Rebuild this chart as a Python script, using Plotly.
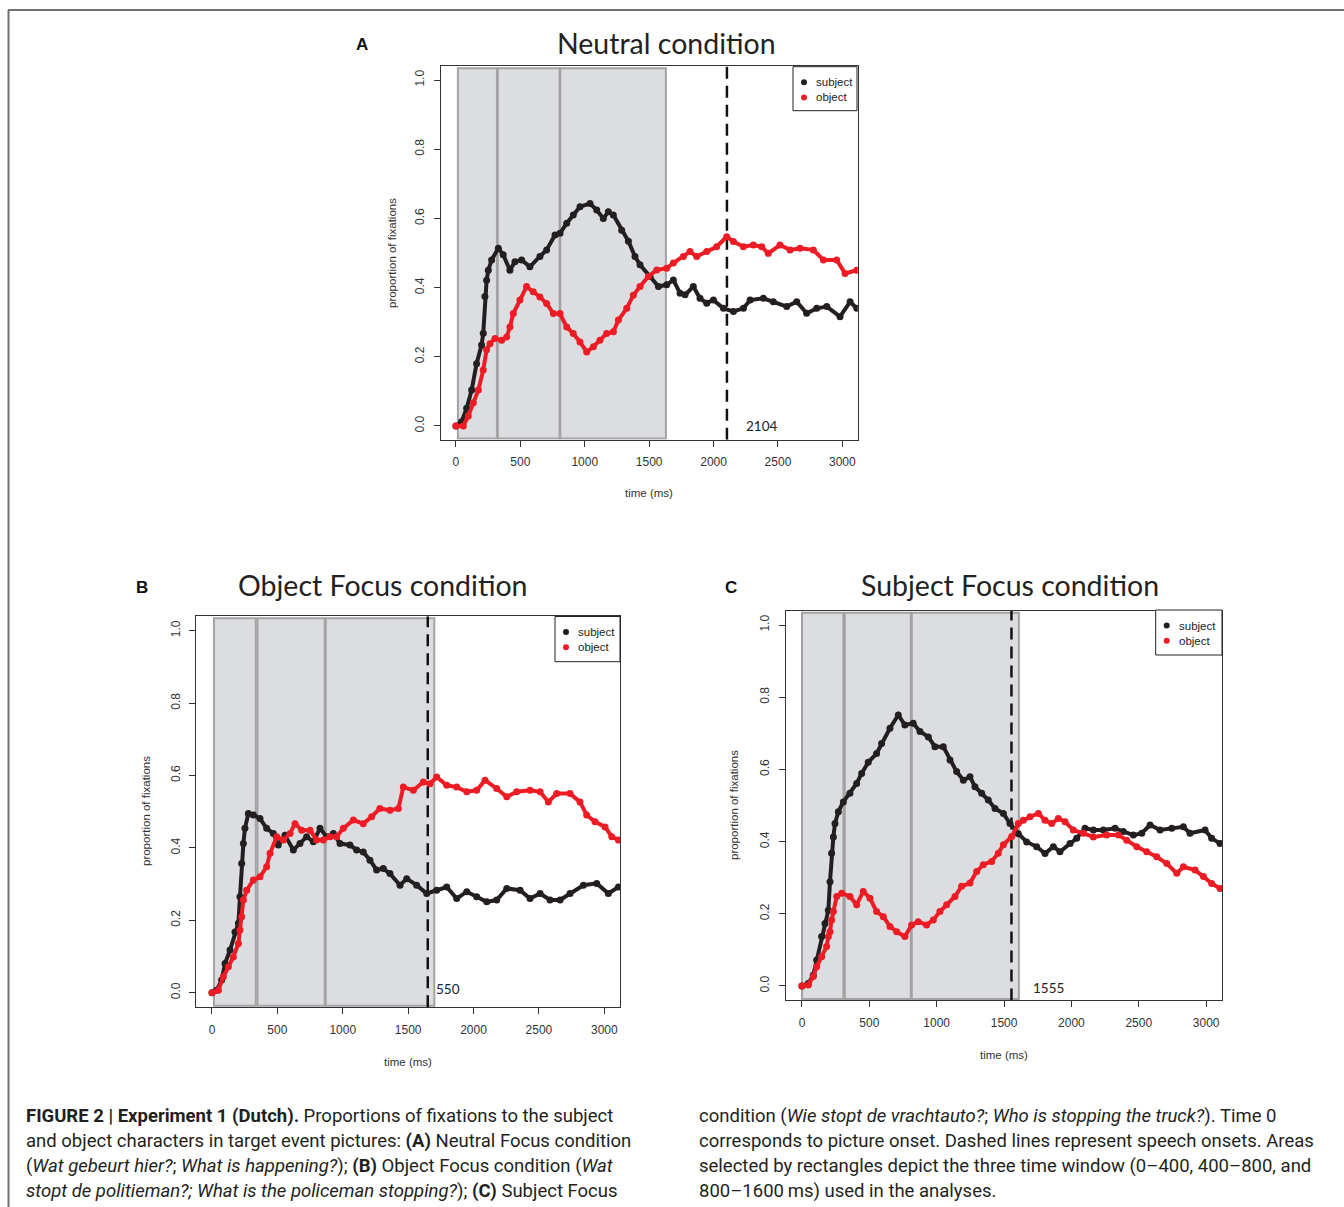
import plotly.graph_objects as go

W, H = 1344, 1207

def fx(px):
    return px / W

def fy(py):
    return 1 - py / H

# ---------------- DATA ----------------
# Panel A: Neutral condition
A_subj_t = [0, 44, 83, 122, 160, 199, 212, 225, 238, 251, 277, 329, 367, 419, 458, 510, 574, 652, 704, 769, 808, 860, 911, 963, 1041, 1093, 1144, 1183, 1222, 1287, 1339, 1390, 1429, 1507, 1572, 1636, 1688, 1740, 1779, 1843, 1895, 1947, 1999, 2077, 2154, 2232, 2284, 2387, 2464, 2568, 2646, 2723, 2801, 2879, 2982, 3060, 3112]
A_subj_v = [0.0, 0.012, 0.051, 0.104, 0.18, 0.234, 0.268, 0.374, 0.421, 0.45, 0.48, 0.514, 0.495, 0.45, 0.475, 0.48, 0.46, 0.49, 0.509, 0.552, 0.557, 0.586, 0.61, 0.634, 0.643, 0.624, 0.6, 0.619, 0.61, 0.566, 0.534, 0.49, 0.466, 0.432, 0.403, 0.408, 0.422, 0.384, 0.379, 0.403, 0.369, 0.355, 0.364, 0.34, 0.331, 0.34, 0.364, 0.369, 0.359, 0.345, 0.359, 0.326, 0.34, 0.345, 0.316, 0.359, 0.34]
A_obj_t = [0, 57, 96, 135, 174, 212, 238, 264, 303, 355, 394, 419, 445, 497, 548, 600, 652, 704, 756, 808, 860, 911, 963, 1015, 1067, 1118, 1170, 1222, 1261, 1326, 1377, 1429, 1494, 1559, 1636, 1688, 1766, 1817, 1869, 1947, 2024, 2102, 2154, 2232, 2309, 2374, 2425, 2516, 2594, 2671, 2775, 2853, 2956, 3021, 3112]
A_obj_v = [0.0, 0.0, 0.029, 0.067, 0.104, 0.162, 0.22, 0.238, 0.253, 0.248, 0.257, 0.286, 0.325, 0.364, 0.403, 0.388, 0.373, 0.354, 0.325, 0.325, 0.286, 0.267, 0.243, 0.214, 0.229, 0.248, 0.267, 0.272, 0.306, 0.34, 0.378, 0.403, 0.432, 0.451, 0.456, 0.471, 0.49, 0.504, 0.49, 0.504, 0.518, 0.547, 0.533, 0.518, 0.523, 0.518, 0.499, 0.523, 0.509, 0.514, 0.509, 0.48, 0.48, 0.441, 0.45]

# Panel B: Object Focus condition
B_subj_t = [0, 36, 74, 100, 138, 176, 202, 214, 227, 240, 252, 278, 316, 367, 418, 469, 507, 558, 622, 673, 724, 775, 826, 877, 928, 979, 1055, 1106, 1157, 1208, 1259, 1310, 1361, 1438, 1489, 1565, 1642, 1718, 1795, 1871, 1948, 2024, 2101, 2177, 2254, 2356, 2432, 2509, 2585, 2662, 2738, 2840, 2942, 3031, 3108]
B_subj_v = [0.0, 0.007, 0.035, 0.081, 0.118, 0.168, 0.192, 0.265, 0.357, 0.412, 0.454, 0.495, 0.491, 0.481, 0.454, 0.44, 0.408, 0.435, 0.394, 0.412, 0.431, 0.417, 0.454, 0.431, 0.44, 0.412, 0.408, 0.394, 0.389, 0.366, 0.339, 0.343, 0.329, 0.297, 0.315, 0.297, 0.274, 0.283, 0.292, 0.26, 0.279, 0.265, 0.251, 0.256, 0.288, 0.283, 0.26, 0.274, 0.256, 0.256, 0.274, 0.297, 0.302, 0.274, 0.292]
B_obj_t = [0, 49, 87, 125, 163, 202, 214, 227, 240, 265, 316, 367, 418, 444, 495, 546, 597, 635, 686, 750, 800, 851, 902, 953, 1004, 1081, 1157, 1221, 1284, 1361, 1425, 1463, 1540, 1616, 1667, 1718, 1795, 1871, 1948, 2024, 2088, 2177, 2254, 2330, 2432, 2509, 2572, 2636, 2738, 2814, 2865, 2929, 3006, 3057, 3108]
B_obj_v = [0.0, 0.007, 0.044, 0.072, 0.099, 0.136, 0.173, 0.21, 0.256, 0.283, 0.311, 0.32, 0.348, 0.385, 0.431, 0.422, 0.44, 0.467, 0.449, 0.449, 0.422, 0.422, 0.431, 0.431, 0.454, 0.477, 0.467, 0.486, 0.509, 0.504, 0.509, 0.568, 0.559, 0.582, 0.577, 0.596, 0.573, 0.568, 0.555, 0.559, 0.587, 0.564, 0.541, 0.555, 0.559, 0.555, 0.527, 0.55, 0.55, 0.527, 0.491, 0.472, 0.458, 0.431, 0.422]

# Panel C: Subject Focus condition
C_subj_t = [0, 47, 84, 109, 146, 171, 196, 208, 220, 233, 245, 270, 307, 356, 406, 443, 492, 554, 591, 653, 715, 764, 826, 876, 938, 987, 1049, 1099, 1148, 1198, 1247, 1284, 1334, 1383, 1433, 1495, 1544, 1606, 1668, 1742, 1804, 1866, 1915, 1990, 2039, 2101, 2163, 2237, 2324, 2385, 2460, 2522, 2584, 2658, 2745, 2831, 2880, 2992, 3041, 3103]
C_subj_v = [0.0, 0.007, 0.03, 0.072, 0.137, 0.173, 0.21, 0.289, 0.368, 0.413, 0.45, 0.483, 0.51, 0.534, 0.561, 0.589, 0.62, 0.644, 0.672, 0.714, 0.751, 0.723, 0.728, 0.705, 0.69, 0.663, 0.663, 0.626, 0.594, 0.57, 0.58, 0.552, 0.534, 0.515, 0.492, 0.478, 0.45, 0.422, 0.399, 0.386, 0.367, 0.386, 0.372, 0.395, 0.409, 0.437, 0.432, 0.432, 0.437, 0.428, 0.418, 0.423, 0.446, 0.432, 0.437, 0.441, 0.423, 0.432, 0.409, 0.395]
C_obj_t = [0, 47, 84, 109, 146, 183, 196, 208, 220, 233, 258, 295, 356, 406, 455, 505, 554, 604, 653, 703, 764, 814, 863, 925, 975, 1024, 1074, 1136, 1185, 1247, 1297, 1346, 1408, 1457, 1495, 1557, 1606, 1643, 1693, 1755, 1804, 1854, 1903, 1953, 2014, 2089, 2163, 2262, 2349, 2410, 2485, 2559, 2633, 2708, 2782, 2831, 2918, 2980, 3041, 3103]
C_obj_v = [0.0, 0.003, 0.026, 0.053, 0.081, 0.109, 0.137, 0.15, 0.183, 0.206, 0.248, 0.257, 0.248, 0.225, 0.262, 0.243, 0.206, 0.192, 0.165, 0.15, 0.137, 0.169, 0.178, 0.169, 0.183, 0.206, 0.225, 0.248, 0.276, 0.285, 0.317, 0.336, 0.345, 0.368, 0.391, 0.414, 0.45, 0.459, 0.469, 0.478, 0.459, 0.45, 0.464, 0.455, 0.432, 0.423, 0.413, 0.418, 0.418, 0.404, 0.386, 0.372, 0.358, 0.339, 0.312, 0.33, 0.321, 0.303, 0.284, 0.27]

titles = ["Neutral condition", "Object Focus condition", "Subject Focus condition"]
panel_letters = ["A", "B", "C"]
speech_onsets = [2104, 1650, 1555]
onset_labels = ["2104", "550", "1555"]
# analysis time-window rectangles as drawn (ms)
windows = [
    [[15, 318], [325, 805], [810, 1630]],
    [[15, 335], [348, 862], [870, 1700]],
    [[0, 308], [318, 808], [815, 1610]],
]
x_ticks = [0, 500, 1000, 1500, 2000, 2500, 3000]
y_ticks = [0.0, 0.2, 0.4, 0.6, 0.8, 1.0]
y_ticktext = ["0.0", "0.2", "0.4", "0.6", "0.8", "1.0"]
series_names = ["subject", "object"]

BLACK = "#231f20"
RED = "#ed1c24"
AX = "#333333"
TICKFONT = dict(family="Liberation Sans, Arial", size=12, color="#333333")

# ---------------- LAYOUT GEOMETRY (pixels) ----------------
panels = [
    dict(x=(440.5, 857.8), y=(439.8, 66.2), title=(666.5, 43), letter=(362, 45),
         ylab=(392, 253), xlab=(649, 493), leg=(793, 66.7, 857, 110.7), lab_x=2236, lab_y=0.0),
    dict(x=(196.3, 620.0), y=(1007.2, 616.2), title=(383, 585), letter=(142, 587),
         ylab=(146, 811), xlab=(408, 1062), leg=(555, 616.5, 620, 661.7), lab_x=1700, lab_y=0.01),
    dict(x=(785.8, 1222.3), y=(1000.4, 610.6), title=(1009.5, 585), letter=(731, 587),
         ylab=(734, 805), xlab=(1004, 1055), leg=(1155.7, 610, 1222, 655), lab_x=1698, lab_y=-0.005),
]

data_sets = [
    (A_subj_t, A_subj_v, A_obj_t, A_obj_v),
    (B_subj_t, B_subj_v, B_obj_t, B_obj_v),
    (C_subj_t, C_subj_v, C_obj_t, C_obj_v),
]

fig = go.Figure()
shapes = []
annotations = []

for i, (p, d) in enumerate(zip(panels, data_sets)):
    sfx = "" if i == 0 else str(i + 1)
    xa, ya = "x" + sfx, "y" + sfx
    st, sv, ot, ov = d
    fig.add_trace(go.Scatter(x=st, y=sv, mode="lines+markers", xaxis=xa, yaxis=ya,
                             line=dict(color=BLACK, width=4), marker=dict(color=BLACK, size=7),
                             name=series_names[0], showlegend=False, cliponaxis=True))
    fig.add_trace(go.Scatter(x=ot, y=ov, mode="lines+markers", xaxis=xa, yaxis=ya,
                             line=dict(color=RED, width=4), marker=dict(color=RED, size=7),
                             name=series_names[1], showlegend=False, cliponaxis=True))

    axis_common = dict(showgrid=False, zeroline=False, showline=True, mirror=True,
                       linecolor=AX, linewidth=1, ticks="outside", ticklen=6,
                       tickcolor=AX, tickwidth=1, tickfont=TICKFONT, ticklabelstandoff=5)
    fig.update_layout(**{
        "xaxis" + sfx: dict(domain=[fx(p["x"][0]), fx(p["x"][1])], range=[-120, 3120],
                            tickvals=x_ticks, anchor=ya, **axis_common),
        "yaxis" + sfx: dict(domain=[fy(p["y"][0]), fy(p["y"][1])], range=[-0.04, 1.04],
                            tickvals=y_ticks, ticktext=y_ticktext, tickangle=-90,
                            anchor=xa, **axis_common),
    })

    # time-window rectangles
    for (a, b) in windows[i]:
        shapes.append(dict(type="rect", xref=xa, yref=ya, x0=a, x1=b, y0=-0.036, y1=1.034,
                           fillcolor="#dcdde0", line=dict(color="#a3a3a3", width=2), layer="below"))
    # speech onset dashed line
    shapes.append(dict(type="line", xref=xa, yref=ya, x0=speech_onsets[i], x1=speech_onsets[i],
                       y0=-0.04, y1=1.04, line=dict(color="#111111", width=2.5, dash="12px,7px"),
                       layer="below"))
    annotations.append(dict(xref=xa, yref=ya, x=p["lab_x"], y=p["lab_y"], text=onset_labels[i],
                            showarrow=False, xanchor="left", yanchor="middle",
                            font=dict(family="Lato", size=13.5, color="#222222")))

    # titles, letters, axis titles
    annotations.append(dict(xref="paper", yref="paper", x=fx(p["title"][0]), y=fy(p["title"][1]),
                            text=titles[i], showarrow=False, xanchor="center", yanchor="middle",
                            font=dict(family="Lato", size=28.5, color="#222222")))
    annotations.append(dict(xref="paper", yref="paper", x=fx(p["letter"][0]), y=fy(p["letter"][1]),
                            text="<b>" + panel_letters[i] + "</b>", showarrow=False,
                            xanchor="center", yanchor="middle",
                            font=dict(family="Liberation Sans, Arial", size=17, color="#111111")))
    annotations.append(dict(xref="paper", yref="paper", x=fx(p["ylab"][0]), y=fy(p["ylab"][1]),
                            text="proportion of fixations", showarrow=False, textangle=-90,
                            xanchor="center", yanchor="middle",
                            font=dict(family="Liberation Sans, Arial", size=11.5, color="#333333")))
    annotations.append(dict(xref="paper", yref="paper", x=fx(p["xlab"][0]), y=fy(p["xlab"][1]),
                            text="time (ms)", showarrow=False, xanchor="center", yanchor="middle",
                            font=dict(family="Liberation Sans, Arial", size=11.5, color="#333333")))

    # legend box
    lx0, ly0, lx1, ly1 = p["leg"]
    shapes.append(dict(type="rect", xref="paper", yref="paper", x0=fx(lx0), x1=fx(lx1),
                       y0=fy(ly1), y1=fy(ly0), fillcolor="white",
                       line=dict(color="#222222", width=1), layer="above"))
    for k, (nm, col) in enumerate(zip(series_names, [BLACK, RED])):
        cy = ly0 + 15.5 + k * 15.2
        cx = lx0 + 11
        shapes.append(dict(type="circle", xref="paper", yref="paper", xsizemode="pixel",
                           ysizemode="pixel", xanchor=fx(cx), yanchor=fy(cy),
                           x0=-3, x1=3, y0=-3, y1=3, fillcolor=col, line=dict(color=col, width=0),
                           layer="above"))
        annotations.append(dict(xref="paper", yref="paper", x=fx(cx + 10), y=fy(cy),
                                text=nm, showarrow=False, xanchor="left", yanchor="middle",
                                font=dict(family="Liberation Sans, Arial", size=11.5, color="#222222")))

# figure frame lines
shapes.append(dict(type="line", xref="paper", yref="paper", x0=fx(8), x1=1.0, y0=fy(10), y1=fy(10),
                   line=dict(color="#707070", width=2)))
shapes.append(dict(type="line", xref="paper", yref="paper", x0=fx(8.5), x1=fx(8.5), y0=0.0, y1=fy(10),
                   line=dict(color="#707070", width=2)))

# caption
caption_left = [
    "<b>FIGURE 2 | Experiment 1 (Dutch).</b> Proportions of fixations to the subject",
    "and object characters in target event pictures: <b>(A)</b> Neutral Focus condition",
    "(<i>Wat gebeurt hier?</i>; <i>What is happening?</i>); <b>(B)</b> Object Focus condition (<i>Wat</i>",
    "<i>stopt de politieman?; What is the policeman stopping?</i>); <b>(C)</b> Subject Focus",
]
caption_right = [
    "condition (<i>Wie stopt de vrachtauto?</i>; <i>Who is stopping the truck?</i>). Time 0",
    "corresponds to picture onset. Dashed lines represent speech onsets. Areas",
    "selected by rectangles depict the three time window (0–400, 400–800, and",
    "800–1600\u2009ms) used in the analyses.",
]
cap_font = dict(family="Roboto", size=18.5, color="#231f20")
for k, line in enumerate(caption_left):
    annotations.append(dict(xref="paper", yref="paper", x=fx(24), y=fy(1116 + 25 * k), text=line,
                            showarrow=False, xanchor="left", yanchor="middle", font=cap_font))
for k, line in enumerate(caption_right):
    annotations.append(dict(xref="paper", yref="paper", x=fx(697), y=fy(1116 + 25 * k), text=line,
                            showarrow=False, xanchor="left", yanchor="middle", font=cap_font))

fig.update_layout(width=W, height=H, margin=dict(l=0, r=0, t=0, b=0),
                  paper_bgcolor="white", plot_bgcolor="white", showlegend=False,
                  shapes=shapes, annotations=annotations)

fig.write_html("out.html", config={"displayModeBar": False},
               post_script="document.body.style.margin='0';document.body.style.overflow='hidden';")
